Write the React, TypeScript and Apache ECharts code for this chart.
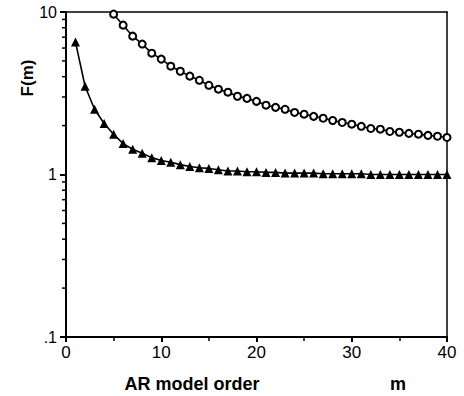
import React, { useEffect, useRef } from "react";
import * as echarts from "echarts";

const orderM = [1, 2, 3, 4, 5, 6, 7, 8, 9, 10, 11, 12, 13, 14, 15, 16, 17, 18, 19, 20, 21, 22, 23, 24, 25, 26, 27, 28, 29, 30, 31, 32, 33, 34, 35, 36, 37, 38, 39, 40];

const triangleValues = [6.53, 3.49, 2.52, 2.06, 1.77, 1.55, 1.43, 1.35, 1.27, 1.22, 1.19, 1.15, 1.12, 1.1, 1.09, 1.07, 1.05, 1.05, 1.04, 1.04, 1.03, 1.03, 1.02, 1.02, 1.02, 1.02, 1.01, 1.01, 1.01, 1.01, 1.01, 1.0, 1.0, 1.0, 1.0, 1.0, 1.0, 1.0, 1.0, 1.0];

const circleM = [5, 6, 7, 8, 9, 10, 11, 12, 13, 14, 15, 16, 17, 18, 19, 20, 21, 22, 23, 24, 25, 26, 27, 28, 29, 30, 31, 32, 33, 34, 35, 36, 37, 38, 39, 40];
const circleValues = [9.7, 8.3, 7.1, 6.35, 5.58, 5.13, 4.64, 4.32, 4.03, 3.8, 3.54, 3.35, 3.21, 3.03, 2.94, 2.82, 2.67, 2.59, 2.52, 2.41, 2.35, 2.28, 2.22, 2.15, 2.09, 2.04, 1.98, 1.92, 1.9, 1.84, 1.82, 1.79, 1.77, 1.74, 1.72, 1.69];

const yMinorTicks = [0.2, 0.3, 0.4, 0.5, 0.6, 0.7, 0.8, 0.9, 2, 3, 4, 5, 6, 7, 8, 9];

const xTickInterval = 10;
const xMin = 0;
const xMax = 40;
const yMin = 0.1;
const yMax = 10;

export default function App() {
  const ref = useRef<HTMLDivElement>(null);
  useEffect(() => {
    if (!ref.current) return;
    const chart = echarts.init(ref.current, null, { renderer: "svg" });
    const font = "'Liberation Sans', Arial, Helvetica, sans-serif";
    const frameAxis = {
      axisLine: { show: true, onZero: false, lineStyle: { color: "#000", width: 1.5 } },
      axisTick: { show: false },
      axisLabel: { show: false },
      splitLine: { show: false },
    };
    chart.setOption({
      animation: false,
      grid: { left: 66, right: 17, top: 12, bottom: 59 },
      xAxis: [
        {
          type: "value",
          min: xMin,
          max: xMax,
          interval: xTickInterval,
          axisLine: { show: true, onZero: false, lineStyle: { color: "#000", width: 2 } },
          axisTick: { show: true, length: 5, lineStyle: { color: "#000", width: 2 } },
          minorTick: { show: true, splitNumber: 2, length: 4, lineStyle: { color: "#000", width: 1.5 } },
          splitLine: { show: false },
          minorSplitLine: { show: false },
          axisLabel: { color: "#000", fontSize: 17, fontFamily: font, margin: 7 },
        },
        { type: "value", position: "top", min: xMin, max: xMax, interval: xTickInterval, ...frameAxis },
      ],
      yAxis: [
        {
          type: "log",
          logBase: 10,
          min: yMin,
          max: yMax,
          axisLine: { show: true, onZero: false, lineStyle: { color: "#000", width: 2 } },
          axisTick: { show: true, length: 6, lineStyle: { color: "#000", width: 2 } },
          splitLine: { show: false },
          axisLabel: {
            color: "#000",
            fontSize: 16,
            fontFamily: font,
            margin: 9,
            formatter: (v: number) => {
              const e = Math.round(Math.log10(v));
              return e === -1 ? ".1" : e === 0 ? "1" : "10";
            },
          },
        },
        { type: "log", logBase: 10, position: "right", min: yMin, max: yMax, ...frameAxis },
      ],
      graphic: [
        {
          type: "text",
          x: 27,
          y: 78,
          rotation: Math.PI / 2,
          style: { text: "F(m)", fill: "#000", font: `bold 17px ${font}`, align: "center", verticalAlign: "middle" },
        },
        {
          type: "text",
          x: 192,
          y: 384,
          style: { text: "AR model order", fill: "#000", font: `bold 18px ${font}`, align: "center", verticalAlign: "middle" },
        },
        {
          type: "text",
          x: 398,
          y: 384,
          style: { text: "m", fill: "#000", font: `bold 18px ${font}`, align: "center", verticalAlign: "middle" },
        },
      ],
      series: [
        {
          type: "custom",
          clip: false,
          silent: true,
          data: yMinorTicks.map((v) => [xMin, v]),
          renderItem: (params: any, api: any) => {
            const p = api.coord([api.value(0), api.value(1)]);
            return {
              type: "line",
              shape: { x1: p[0] - 4, y1: p[1], x2: p[0], y2: p[1] },
              style: { stroke: "#000", lineWidth: 1.5 },
            };
          },
        },
        {
          type: "line",
          data: circleM.map((m, i) => [m, circleValues[i]]),
          symbol: "emptyCircle",
          symbolSize: 7,
          lineStyle: { color: "#000", width: 1.6 },
          itemStyle: { color: "#000", borderColor: "#000", borderWidth: 1.6 },
          showAllSymbol: true,
        },
        {
          type: "line",
          data: orderM.map((m, i) => [m, triangleValues[i]]),
          symbol: "triangle",
          symbolSize: 9,
          lineStyle: { color: "#000", width: 1.6 },
          itemStyle: { color: "#000" },
          showAllSymbol: true,
        },
      ],
    });
    return () => chart.dispose();
  }, []);
  return <div ref={ref} style={{ position: "absolute", left: 0, top: 0, width: 464, height: 396 }} />;
}
